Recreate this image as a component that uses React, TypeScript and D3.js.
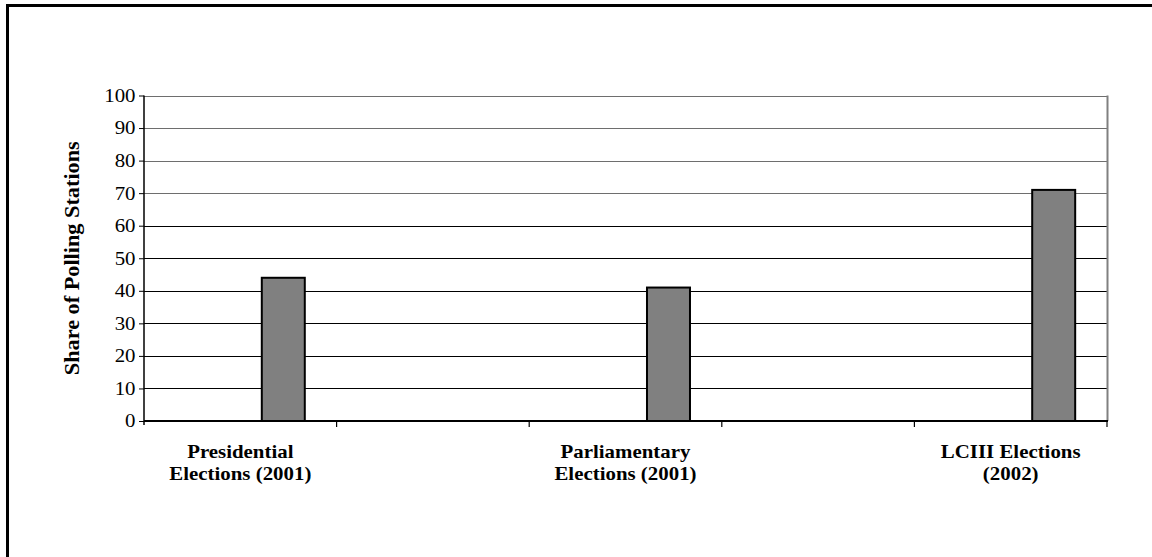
import * as d3 from 'd3';
import React, { useEffect, useRef } from 'react';

// five category slots; the 2nd and 4th are empty in the source chart
const categories = ['pres', 'gap1', 'parl', 'gap2', 'lc'];
const categoryLabels: string[][] = [
  ['Presidential', 'Elections (2001)'],
  [],
  ['Parliamentary', 'Elections (2001)'],
  [],
  ['LCIII Elections', '(2002)'],
];
// clustered layout with three series, only the last one carries values
const seriesKeys = ['s1', 's2', 's3'];
const s1Values: (number | null)[] = [null, null, null, null, null];
const s2Values: (number | null)[] = [null, null, null, null, null];
const s3Values: (number | null)[] = [44, null, 41, null, 71];
const yTicks = [0, 10, 20, 30, 40, 50, 60, 70, 80, 90, 100];
const yTitle = 'Share of Polling Stations';

const App: React.FC = () => {
  const svgRef = useRef<SVGSVGElement | null>(null);

  useEffect(() => {
    const svg = d3.select(svgRef.current);
    const width = 1152;
    const height = 557;
    const margin = { top: 95.5, right: 45, bottom: 136, left: 144 };
    const font = '"Liberation Serif", "Times New Roman", serif';
    const stretch = 1.13; // source text is a bit wider than plain Times

    svg.selectAll('*').remove();
    svg.attr('width', width).attr('height', height);

    // outer frame, runs off the right and bottom edges
    svg
      .append('path')
      .attr('d', `M${width + 10},5.5H7.5V${height + 10}`)
      .attr('fill', 'none')
      .attr('stroke', '#000')
      .attr('stroke-width', 3);

    const x = d3
      .scaleBand<string>()
      .domain(categories)
      .range([margin.left, width - margin.right])
      .padding(0);

    const xInner = d3
      .scaleBand<string>()
      .domain(seriesKeys)
      .range([0, x.bandwidth()])
      .paddingInner(0)
      .paddingOuter(0.74);

    const y = d3
      .scaleLinear()
      .domain([0, 100])
      .range([height - margin.bottom, margin.top]);

    const x0 = margin.left;
    const x1 = width - margin.right;

    // gridlines
    svg
      .append('g')
      .selectAll('line')
      .data(yTicks.filter((d) => d > 0))
      .join('line')
      .attr('x1', x0)
      .attr('x2', x1)
      .attr('y1', (d) => Math.round(y(d)) + 0.5)
      .attr('y2', (d) => Math.round(y(d)) + 0.5)
      .attr('stroke', (d) => (d >= 70 ? '#6e6e6e' : '#000'))
      .attr('stroke-width', 1);

    // right border of plot area
    svg
      .append('line')
      .attr('x1', x1 + 0.5)
      .attr('x2', x1 + 0.5)
      .attr('y1', y(100))
      .attr('y2', y(0))
      .attr('stroke', '#808080')
      .attr('stroke-width', 2);

    // bars
    const seriesData = [s1Values, s2Values, s3Values];
    seriesKeys.forEach((key, si) => {
      const rows = categories
        .map((c, i) => ({ c, v: seriesData[si][i] }))
        .filter((d) => d.v !== null) as { c: string; v: number }[];
      svg
        .append('g')
        .selectAll('rect')
        .data(rows)
        .join('rect')
        .attr('x', (d) => x(d.c)! + xInner(key)!)
        .attr('y', (d) => y(d.v))
        .attr('width', xInner.bandwidth())
        .attr('height', (d) => y(0) - y(d.v))
        .attr('fill', '#808080')
        .attr('stroke', '#000')
        .attr('stroke-width', 2);
    });

    // y axis
    const yAxis = svg
      .append('g')
      .attr('transform', `translate(${x0},0)`)
      .call(d3.axisLeft(y).tickValues(yTicks).tickSize(5).tickPadding(0));
    yAxis
      .select('.domain')
      .attr('stroke', '#000')
      .attr('stroke-width', 1.5)
      .attr('d', `M0,${y(100)}V${y(0) + 4}`);
    yAxis.selectAll('.tick line').attr('stroke', '#000');
    yAxis
      .selectAll('text')
      .attr('x', -8.5 / stretch)
      .attr('transform', `scale(${stretch},1)`)
      .attr('font-family', font)
      .attr('font-size', 18.5)
      .attr('fill', '#000');

    // x axis with ticks on category boundaries
    const bounds = categories.map((c) => x(c)! + x.bandwidth());
    const xAxis = svg.append('g');
    xAxis
      .append('line')
      .attr('x1', x0)
      .attr('x2', x1 + 1)
      .attr('y1', y(0))
      .attr('y2', y(0))
      .attr('stroke', '#000')
      .attr('stroke-width', 2);
    xAxis
      .selectAll('line.tk')
      .data(bounds)
      .join('line')
      .attr('class', 'tk')
      .attr('x1', (d) => d)
      .attr('x2', (d) => d)
      .attr('y1', y(0))
      .attr('y2', y(0) + 6)
      .attr('stroke', '#000')
      .attr('stroke-width', 1.2);

    // category labels
    const labels = svg
      .append('g')
      .selectAll('g')
      .data(categories.map((c, i) => ({ c, lines: categoryLabels[i] })))
      .join('g')
      .attr(
        'transform',
        (d) => `translate(${x(d.c)! + x.bandwidth() / 2},${y(0) + 37}) scale(${stretch},1)`,
      )
      .append('text')
      .attr('text-anchor', 'middle')
      .attr('font-family', font)
      .attr('font-weight', 'bold')
      .attr('font-size', 18.5);
    labels
      .selectAll('tspan')
      .data((d) => d.lines)
      .join('tspan')
      .attr('x', 0)
      .attr('dy', (_, i) => (i === 0 ? 0 : 22))
      .text((d) => d);

    // y axis title
    svg
      .append('text')
      .attr('transform', `translate(79,${(y(0) + y(100)) / 2}) rotate(-90)`)
      .attr('text-anchor', 'middle')
      .attr('font-family', font)
      .attr('font-weight', 'bold')
      .attr('font-size', 20)
      .attr('textLength', 234)
      .attr('lengthAdjust', 'spacingAndGlyphs')
      .text(yTitle);
  }, []);

  return (
    <div
      style={{
        position: 'fixed',
        left: 0,
        top: 0,
        width: 1152,
        height: 557,
        background: '#fff',
        overflow: 'hidden',
      }}
    >
      <svg ref={svgRef} style={{ display: 'block' }}></svg>
    </div>
  );
};

export default App;
